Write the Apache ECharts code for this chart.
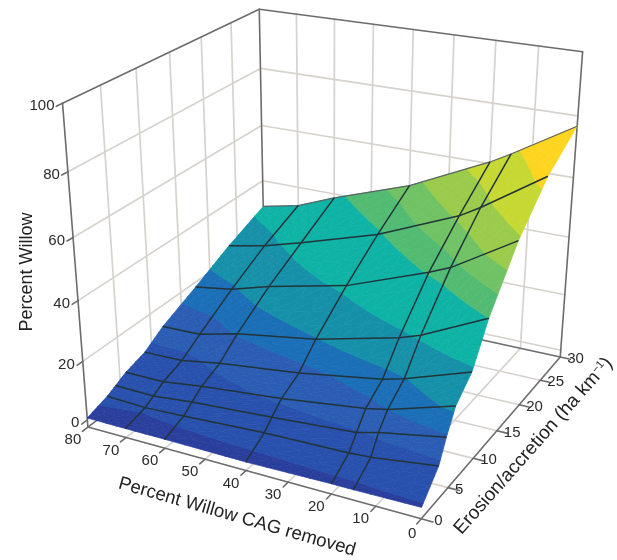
<!doctype html><html><head><meta charset="utf-8"><style>html,body{margin:0;padding:0;background:#fff}#c{width:617px;height:560px}</style>
<script src="https://cdn.jsdelivr.net/npm/echarts@6/dist/echarts.min.js"></script></head><body><div id="c"></div>
<script>
const xLines=[80,70,60,40,20,15,0];
const eLines=[0,3,4.3,5.9,8.9,11.9,17.5,23.5,30];
const percentWillow=[
[0.7,0.6,0.6,0.4,0.9,0.9,1.2],
[2.9,2.4,3.0,4.5,5.2,5.7,8.5],
[4.4,4.1,5.5,7.4,9.5,11.3,15.3],
[6.3,6.3,8.1,10.8,14.5,15.9,22.3],
[8.4,8.7,11.0,14.2,18.8,20.7,27.9],
[12.7,13.0,16.3,20.7,27.5,29.9,40.0],
[18.3,20.4,24.2,30.3,40.5,43.4,56.1],
[24.7,27.4,31.1,39.3,50.8,54.8,68.5],
[30.5,33.3,38.6,47.8,60.6,64.4,76.7]];
const xTicks=[80,70,60,50,40,30,20,10,0];
const eTicks=[0,5,10,15,20,25,30];
const zTicks=[0,20,40,60,80,100];
const bandLimits=[2,10,16,21,29,40,45,50,57,66,200];
const bandColors=['#2a3e9c','#2850ad','#2a5db3','#1a6fb7','#1690a9','#0fb3a6','#52bb72','#70c264','#9acb4a','#c6d832','#fdd520'];
const floorZ=-2.5;
// Camera matrix of the 3D view (x, e, z -> pixel)
const P=[-4.057541,8.275401,-0.3393918,421.4638,-0.5677274,-3.093618,-3.617283,511.0918,0.001362054,0.006479110,-0.001030700];

const proj=(x,e,z)=>{const w=P[8]*x+P[9]*e+P[10]*z+1;return[(P[0]*x+P[1]*e+P[2]*z+P[3])/w,(P[4]*x+P[5]*e+P[6]*z+P[7])/w]};
const chart=echarts.init(document.getElementById('c'),null,{renderer:'canvas'});

function clipBand(tri,lo,hi){
  const cut=(poly,lim,keepAbove)=>{const out=[];for(let i=0;i<poly.length;i++){const a=poly[i],b=poly[(i+1)%poly.length];
    const ia=keepAbove?a[2]>=lim:a[2]<=lim,ib=keepAbove?b[2]>=lim:b[2]<=lim;
    if(ia)out.push(a);
    if(ia!==ib){const t=(lim-a[2])/(b[2]-a[2]);out.push([a[0]+t*(b[0]-a[0]),a[1]+t*(b[1]-a[1]),lim])}}
    return out};
  let p=cut(tri,lo,true);if(p.length)p=cut(p,hi,false);return p;
}
const SUB=4;
function cellItem(params,api){
  const i=api.value(0),j=api.value(1);
  const x0=xLines[i],x1=xLines[i+1],e0=eLines[j],e1=eLines[j+1];
  const z00=percentWillow[j][i],z10=percentWillow[j][i+1],z01=percentWillow[j+1][i],z11=percentWillow[j+1][i+1];
  const pt=(s,t)=>[x0+s*(x1-x0),e0+t*(e1-e0),(1-s)*(1-t)*z00+s*(1-t)*z10+(1-s)*t*z01+s*t*z11];
  const children=[];
  for(let a=0;a<SUB;a++)for(let b=0;b<SUB;b++){
    const p00=pt(a/SUB,b/SUB),p10=pt((a+1)/SUB,b/SUB),p01=pt(a/SUB,(b+1)/SUB),p11=pt((a+1)/SUB,(b+1)/SUB);
    for(const tri of [[p00,p10,p11],[p00,p11,p01]]){
      let lo=-100;
      bandLimits.forEach((hi,k)=>{
        const poly=clipBand(tri,lo,hi);lo=hi;
        if(poly.length>2){
          children.push({type:'polygon',shape:{points:poly.map(q=>api.coord(proj(q[0],q[1],q[2])))},
            style:{fill:bandColors[k],stroke:bandColors[k],lineWidth:0.7}});
        }
      });
    }
  }
  return {type:'group',children};
}
const seg=(api,a,b,color,w)=>({type:'line',shape:{x1:api.coord(proj(...a))[0],y1:api.coord(proj(...a))[1],x2:api.coord(proj(...b))[0],y2:api.coord(proj(...b))[1]},style:{stroke:color,lineWidth:w,lineCap:'round'}});

const cells=[];for(let j=eLines.length-2;j>=0;j--)for(let i=0;i<xLines.length-1;i++)cells.push([i,j]);
const GRID='#d6d3ce',BOX='#6d6b6b',MESH='#22343a',TXT='#2b2b2b';
const base={type:'custom',coordinateSystem:'cartesian2d',silent:true,clip:false,animation:false};
const one=fn=>Object.assign({},base,{data:[[0,0]],renderItem:fn});
const X0=80,XE=0,E1=30,Z1=100;
const series=[
 one((p,api)=>{const ch=[];
   const G=(a,b)=>ch.push(seg(api,a,b,GRID,1.7));
   zTicks.forEach(z=>{if(z<100){G([X0,0,z],[X0,E1,z]);G([X0,E1,z],[XE,E1,z]);}});
   eTicks.forEach(e=>{if(e>0&&e<30){G([X0,e,floorZ],[X0,e,Z1]);G([X0,e,floorZ],[XE,e,floorZ]);}});
   xTicks.forEach(x=>{if(x>0&&x<80){G([x,E1,floorZ],[x,E1,Z1]);G([x,0,floorZ],[x,E1,floorZ]);}});
   const B=(a,b)=>ch.push(seg(api,a,b,BOX,1.6));
   B([X0,0,floorZ],[X0,0,Z1]);B([X0,E1,floorZ],[X0,E1,Z1]);B([XE,E1,floorZ],[XE,E1,Z1]);
   B([X0,0,Z1],[X0,E1,Z1]);B([X0,E1,Z1],[XE,E1,Z1]);
   B([X0,0,floorZ],[XE,0,floorZ]);B([XE,0,floorZ],[XE,E1,floorZ]);B([X0,0,floorZ],[X0,E1,floorZ]);B([X0,E1,floorZ],[XE,E1,floorZ]);
   xTicks.forEach(x=>B([x,0,floorZ],[x,-0.8,floorZ]));
   eTicks.forEach(e=>B([0,e,floorZ],[-2.5,e,floorZ]));
   zTicks.forEach(z=>B([X0,0,z],[X0,-0.8,z]));
   return {type:'group',children:ch};}),
 Object.assign({},base,{data:cells,renderItem:cellItem}),
 one((p,api)=>{const ch=[];
   const L=(pts,c,w)=>ch.push({type:'polyline',shape:{points:pts.map(q=>api.coord(proj(...q)))},style:{stroke:c,lineWidth:w,fill:null,lineJoin:'round'}});
   eLines.forEach((e,j)=>{if(j>0)L(xLines.map((x,i)=>[x,e,percentWillow[j][i]]),j===eLines.length-1?'#5c6466':MESH,j===eLines.length-1?1.2:1.5);});
   xLines.forEach((x,i)=>{if(i>0&&i<xLines.length-1)L(eLines.map((e,j)=>[x,e,percentWillow[j][i]]),MESH,1.5);});
   return {type:'group',children:ch};}),
 one((p,api)=>{const ch=[];
   const T=(s,q,dx,dy,al)=>{const c=api.coord(proj(...q));ch.push({type:'text',x:c[0]+dx,y:c[1]+dy,style:{text:String(s),fill:TXT,font:'15px "Liberation Sans"',align:al,verticalAlign:'middle'}})};
   xTicks.forEach(x=>T(x,[x,0,floorZ],x===0?-9:-15,x===0?15:13,'center'));
   eTicks.forEach(e=>T(e,[0,e,floorZ],e===0?13:7,2,'left'));
   zTicks.forEach(z=>T(z,[X0,0,z],-8,3,'right'));
   const R=(s,u,v,deg,size,rich)=>{const c=api.coord([u,v]);ch.push({type:'text',x:c[0],y:c[1],rotation:deg*Math.PI/180,style:{text:s,fill:'#222',font:size+'px "Liberation Sans"',align:'center',verticalAlign:'middle',rich}})};
   R('Percent Willow',27,272,90,18);
   R('Percent Willow CAG removed',237,517,-16,18.6);
   R('Erosion/accretion (ha km{s|−1})',533.5,446,48.5,19,{s:{fontSize:11,fontFamily:'Liberation Sans',fill:'#222',padding:[0,0,8,0]}});
   return {type:'group',children:ch};})
];
chart.setOption({animation:false,
 grid:{left:0,top:0,right:0,bottom:0},
 xAxis:{type:'value',min:0,max:617,show:false},
 yAxis:{type:'value',min:0,max:560,inverse:true,show:false},
 series});
</script></body></html>
